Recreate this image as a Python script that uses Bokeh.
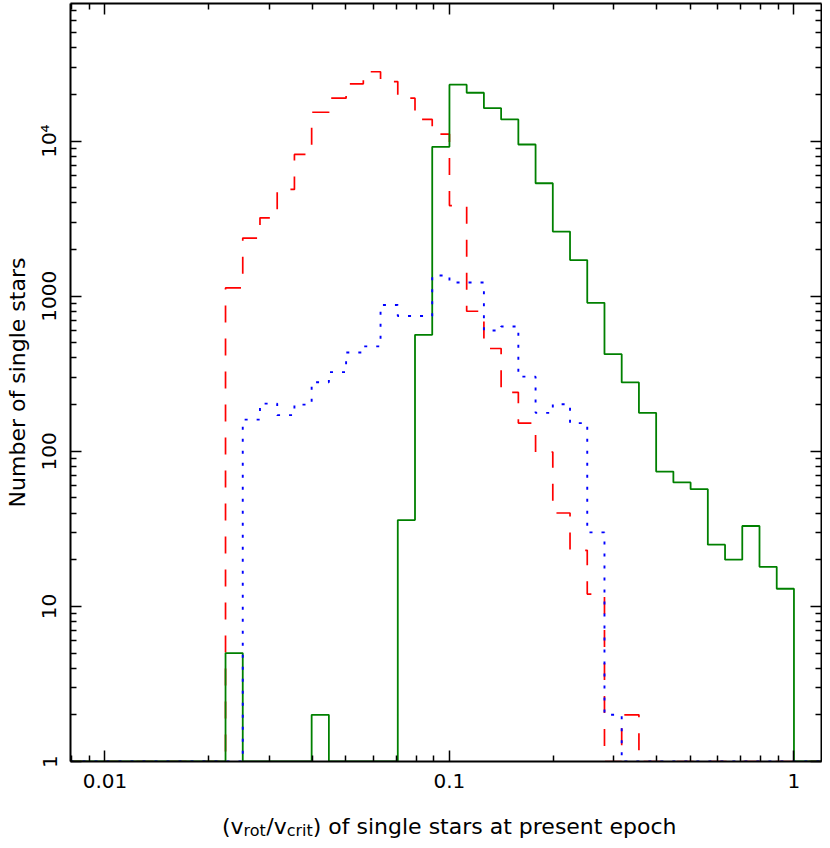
import math
from bokeh.plotting import figure
from bokeh.layouts import column
from bokeh.models import Range1d, LogAxis, FixedTicker, CustomJSTickFormatter, Label
from bokeh.embed import file_html
from bokeh.resources import INLINE

# ---------------- data ----------------
# histogram bin edges in log10(v_rot/v_crit), 0.05 dex wide
bin_log_edges = [-1.65, -1.60, -1.55, -1.50, -1.45, -1.40, -1.35, -1.30, -1.25,
                 -1.20, -1.15, -1.10, -1.05, -1.00, -0.95, -0.90, -0.85, -0.80,
                 -0.75, -0.70, -0.65, -0.60, -0.55, -0.50, -0.45, -0.40, -0.35,
                 -0.30, -0.25, -0.20, -0.15, -0.10, -0.05, 0.00]

counts_red_dashed = [1130, 2370, 3200, 4880, 8200, 15350, 18900, 23400, 28000,
                     24200, 18900, 13800, 11100, 3840, 800, 460, 240, 152,
                     99, 40, 23, 12, 0, 2, 0, 0, 0,
                     0, 0, 0, 0, 0, 0]

counts_green_solid = [5, 0, 0, 0, 0, 2, 0, 0, 0,
                      0, 36, 564, 9190, 23100, 20500, 16300, 13800, 9510,
                      5350, 2610, 1710, 906, 423, 278, 177, 74, 63,
                      57, 25, 20, 33, 18, 13]

counts_blue_dotted = [0, 160, 203, 171, 200, 279, 324, 434, 475,
                      877, 746, 746, 1360, 1225, 1225, 601, 638, 303,
                      177, 201, 152, 30, 2, 0, 0, 0, 0,
                      0, 0, 0, 0, 0, 0]

x_major_ticks = [0.01, 0.1, 1.0]
x_tick_labels = ["0.01", "0.1", "1"]
y_major_ticks = [1, 10, 100, 1000, 10000]
y_tick_labels = ["1", "10", "100", "1000", "10\u2074"]

x_label_parts = [("(v", False), ("rot", True), ("/v", False), ("crit", True),
                 (") of single stars at present epoch", False)]
y_label_text = "Number of single stars"

# ---------------- layout ----------------
W = 822
MAIN_H = 798
XLAB_H = 42
BL, BR, BT, BB = 70, 1, 3, 37
FRAME_W = W - BL - BR
FRAME_H = MAIN_H - BT - BB
PX_PER_DEC_X = 344.5
PX_PER_DEC_Y = 155.1
X_LOG_MIN = -2.1
X_LOG_MAX = X_LOG_MIN + FRAME_W / PX_PER_DEC_X
Y_LOG_MAX = FRAME_H / PX_PER_DEC_Y
FONT = "DejaVu Sans"
TICK_FS = 20
LABEL_FS = 22
SUB_FS = 16

x_lo, x_hi = 10 ** X_LOG_MIN, 10 ** X_LOG_MAX
y_lo, y_hi = 1.0, 10 ** Y_LOG_MAX

x_minor = [m * 10 ** k for k in (-3, -2, -1) for m in range(2, 10)
           if x_lo < m * 10 ** k < x_hi]
y_minor = [m * 10 ** k for k in range(0, 5) for m in range(2, 10)
           if m * 10 ** k < y_hi]

p = figure(width=W, height=MAIN_H, x_axis_type="log", y_axis_type="log",
           x_range=Range1d(x_lo, x_hi), y_range=Range1d(y_lo, y_hi),
           output_backend="svg", toolbar_location=None, title=None,
           min_border_left=BL, min_border_right=BR,
           min_border_top=BT, min_border_bottom=BB)
p.frame_align = False
p.grid.visible = False
p.outline_line_color = None
p.background_fill_color = "white"
p.border_fill_color = "white"

FMT_CODE = """
for (let i = 0; i < vals.length; i++) {
  if (Math.abs(tick - vals[i]) <= 1e-9 * Math.abs(vals[i])) { return labs[i] }
}
return ''
"""


def style_axis(ax, ticks, minors, labels, show_labels, standoff=10, vertical=False):
    ax.ticker = FixedTicker(ticks=ticks, minor_ticks=minors)
    ax.axis_line_color = "black"
    ax.axis_line_width = 2
    ax.major_tick_line_color = "black"
    ax.major_tick_line_width = 1.5
    ax.minor_tick_line_color = "black"
    ax.minor_tick_line_width = 1.5
    ax.major_tick_in = 11
    ax.major_tick_out = 0
    ax.minor_tick_in = 6
    ax.minor_tick_out = 0
    if show_labels:
        ax.formatter = CustomJSTickFormatter(args=dict(vals=ticks, labs=labels), code=FMT_CODE)
        ax.major_label_text_font = FONT
        ax.major_label_text_font_size = f"{TICK_FS}px"
        ax.major_label_text_color = "black"
        ax.major_label_standoff = standoff
        if vertical:
            ax.major_label_orientation = "vertical"
    else:
        ax.axis_label = None
        ax.formatter = CustomJSTickFormatter(code="return ''")
        ax.major_label_text_font_size = "0px"
        ax.major_label_standoff = 0


style_axis(p.xaxis[0], x_major_ticks, x_minor, x_tick_labels, True, standoff=12)
p.xaxis[0].axis_label = None
style_axis(p.yaxis[0], y_major_ticks, y_minor, y_tick_labels, True, standoff=9, vertical=True)
p.yaxis[0].axis_label = y_label_text
p.yaxis[0].axis_label_text_font = FONT
p.yaxis[0].axis_label_text_font_size = f"{LABEL_FS}px"
p.yaxis[0].axis_label_text_font_style = "normal"
p.yaxis[0].axis_label_text_color = "black"
p.yaxis[0].axis_label_standoff = 5

top_ax = LogAxis()
style_axis(top_ax, x_major_ticks, x_minor, x_tick_labels, False)
p.add_layout(top_ax, "above")
right_ax = LogAxis()
style_axis(right_ax, y_major_ticks, y_minor, y_tick_labels, False)
p.add_layout(right_ax, "right")


def step_xy(counts):
    xs = [x_lo] + [10 ** e for e in bin_log_edges] + [x_hi]
    ys = [y_lo] + [max(c, 1) for c in counts] + [y_lo, y_lo]
    return xs, ys


xr, yr = step_xy(counts_red_dashed)
p.step(xr, yr, mode="after", line_color="#ff0000", line_width=1.7, line_dash="17 16")
xg, yg = step_xy(counts_green_solid)
p.step(xg, yg, mode="after", line_color="#008000", line_width=1.8)
xb, yb = step_xy(counts_blue_dotted)
p.step(xb, yb, mode="after", line_color="#0000ff", line_width=1.9, line_dash="3 9")

# ---------------- x-axis title with subscripts (separate strip) ----------------
q = figure(width=W, height=XLAB_H, x_range=Range1d(0, W), y_range=Range1d(0, XLAB_H),
           x_axis_location=None, y_axis_location=None, title=None,
           output_backend="svg", toolbar_location=None,
           min_border_left=0, min_border_right=0, min_border_top=0, min_border_bottom=0)
q.frame_align = False
q.grid.visible = False
q.outline_line_color = None
q.background_fill_color = "white"
q.border_fill_color = "white"

ADV = {" ": 651, "(": 799, ")": 799, "/": 690, "a": 1255, "c": 1126, "e": 1260,
       "f": 721, "g": 1300, "h": 1298, "i": 569, "l": 569, "n": 1298, "o": 1253,
       "p": 1300, "r": 842, "s": 1067, "t": 803, "v": 1212}


def text_w(s, fs):
    return sum(ADV.get(c, 1200) for c in s) / 2048.0 * fs


x_center = BL + (math.log10(0.1) - X_LOG_MIN) * PX_PER_DEC_X
total_w = sum(text_w(t, SUB_FS if sub else LABEL_FS) for t, sub in x_label_parts)
cx = x_center - total_w / 2.0
MAIN_BASE = 14
SUB_BASE = 10
for t, sub in x_label_parts:
    fs = SUB_FS if sub else LABEL_FS
    q.add_layout(Label(x=cx, y=SUB_BASE if sub else MAIN_BASE,
                       x_units="screen", y_units="screen",
                       text=t, text_font=FONT, text_font_size=f"{fs}px",
                       text_color="black", text_align="left",
                       text_baseline="alphabetic"))
    cx += text_w(t, fs)

layout = column(p, q, spacing=0)
open("out.html", "w").write(file_html(layout, INLINE))
